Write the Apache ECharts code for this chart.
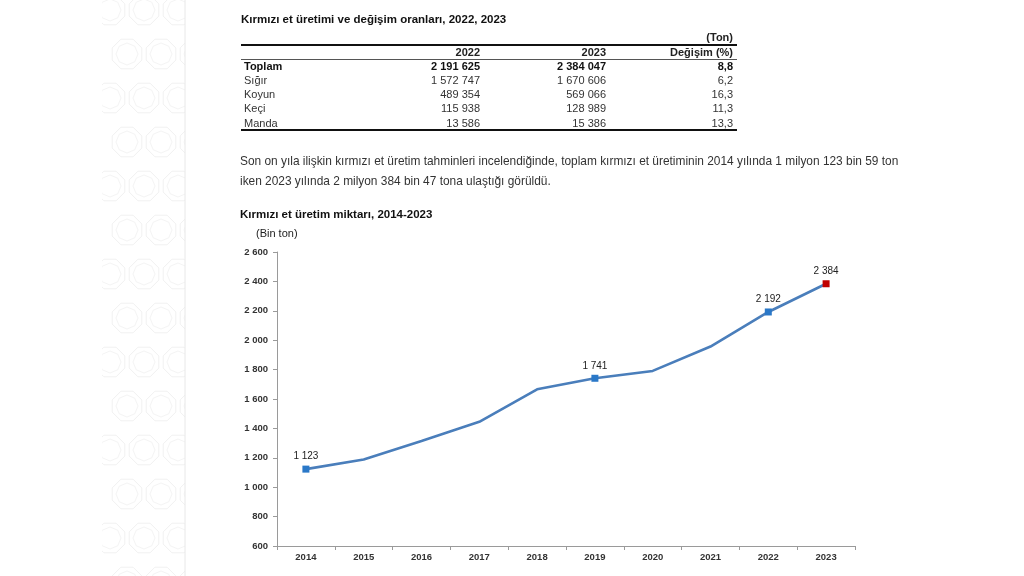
<!DOCTYPE html>
<html>
<head>
<meta charset="utf-8">
<script src="https://cdn.jsdelivr.net/npm/echarts@6/dist/echarts.min.js"></script>
<style>
html,body{margin:0;padding:0;background:#fff;}
#c{width:1024px;height:576px;}
</style>
</head>
<body>
<div id="c"></div>
<script>
// ---- Table data ----
var tableTitle = 'Kırmızı et üretimi ve değişim oranları, 2022, 2023';
var tableUnit = '(Ton)';
var tableHeaders = ['2022', '2023', 'Değişim (%)'];
var rowNames = ['Toplam', 'Sığır', 'Koyun', 'Keçi', 'Manda'];
var values2022 = ['2 191 625', '1 572 747', '489 354', '115 938', '13 586'];
var values2023 = ['2 384 047', '1 670 606', '569 066', '128 989', '15 386'];
var changes = ['8,8', '6,2', '16,3', '11,3', '13,3'];

// ---- Text ----
var paragraphLines = [
  'Son on yıla ilişkin kırmızı et üretim tahminleri incelendiğinde, toplam kırmızı et üretiminin 2014 yılında 1 milyon 123 bin 59 ton',
  'iken 2023 yılında 2 milyon 384 bin 47 tona ulaştığı görüldü.'
];
var chartTitle = 'Kırmızı et üretim miktarı, 2014-2023';
var chartUnit = '(Bin ton)';

// ---- Chart data ----
var years = ['2014', '2015', '2016', '2017', '2018', '2019', '2020', '2021', '2022', '2023'];
var production = [1123, 1189, 1315, 1445, 1666, 1741, 1791, 1957, 2192, 2384];
var markedYears = ['2014', '2019', '2022', '2023'];
var redYears = ['2023'];

function fmt(v) {
  return String(v).replace(/\B(?=(\d{3})+(?!\d))/g, ' ');
}

var FONT = '"Liberation Sans", Arial, sans-serif';
var graphics = [];

// decorative side band
(function () {
  var x0 = 102, x1 = 185;
  var children = [];
  for (var r = 0; r < 14; r++) {
    for (var c = 0; c < 3; c++) {
      var cx = x0 + 8 + c * 34 + (r % 2 ? 17 : 0);
      var cy = 10 + r * 44;
      var pts = [], pts2 = [];
      for (var k = 0; k < 8; k++) {
        var a = Math.PI / 8 + k * Math.PI / 4;
        pts.push([cx + 16 * Math.cos(a), cy + 16 * Math.sin(a)]);
        var b = k * Math.PI / 4;
        pts2.push([cx + 11 * Math.cos(b), cy + 11 * Math.sin(b)]);
      }
      children.push({ type: 'polygon', shape: { points: pts }, style: { fill: null, stroke: '#f1f1f1', lineWidth: 1 } });
      children.push({ type: 'polygon', shape: { points: pts2 }, style: { fill: null, stroke: '#f4f4f4', lineWidth: 1 } });
    }
  }
  graphics.push({ type: 'group', silent: true, clipPath: { type: 'rect', shape: { x: x0, y: 0, width: x1 - x0, height: 576 } }, children: children });
  graphics.push({ type: 'line', shape: { x1: x1, y1: 0, x2: x1, y2: 576 }, style: { stroke: '#e8e8e8', lineWidth: 1 } });
})();

function txt(x, y, s, opt) {
  opt = opt || {};
  graphics.push({
    type: 'text', x: x, y: y,
    style: {
      text: s,
      font: (opt.bold ? 'bold ' : '') + (opt.size || 11) + 'px ' + FONT,
      fill: opt.color || '#222',
      textAlign: opt.align || 'left',
      textVerticalAlign: 'middle'
    }
  });
}
function hline(x1, x2, y, w, color) {
  graphics.push({ type: 'line', shape: { x1: x1, y1: y, x2: x2, y2: y }, style: { stroke: color || '#111', lineWidth: w } });
}

// Table
txt(241, 20, tableTitle, { bold: true, size: 11.5, color: '#111' });
txt(733, 37.5, tableUnit, { bold: true, size: 11, color: '#222', align: 'right' });
hline(241, 737, 45, 2, '#111');
var colX = [480, 606, 733];
tableHeaders.forEach(function (h, i) { txt(colX[i], 52.5, h, { bold: true, size: 11, align: 'right' }); });
hline(241, 737, 59.5, 1, '#555');
rowNames.forEach(function (n, i) {
  var y = 66.5 + i * 14.3;
  var b = i === 0;
  var col = b ? '#111' : '#333';
  txt(244, y, n, { bold: b, size: 11, color: col });
  txt(colX[0], y, values2022[i], { bold: b, size: 11, color: col, align: 'right' });
  txt(colX[1], y, values2023[i], { bold: b, size: 11, color: col, align: 'right' });
  txt(colX[2], y, changes[i], { bold: b, size: 11, color: col, align: 'right' });
});
hline(241, 737, 130, 2, '#111');

// Paragraph
paragraphLines.forEach(function (l, i) { txt(240, 161.5 + i * 20, l, { size: 11.9, color: '#333' }); });

// Chart titles
txt(240, 214.5, chartTitle, { bold: true, size: 11.5, color: '#111' });
txt(256, 233.5, chartUnit, { size: 11, color: '#222' });

var seriesData = years.map(function (y, i) {
  var marked = markedYears.indexOf(y) >= 0;
  var red = redYears.indexOf(y) >= 0;
  if (!marked) return { value: production[i], symbol: 'none' };
  return {
    value: production[i],
    symbol: 'rect',
    symbolSize: 7,
    itemStyle: { color: red ? '#c00000' : '#2a78c8' },
    label: { show: true }
  };
});

var chart = echarts.init(document.getElementById('c'), null, { renderer: 'canvas' });
chart.setOption({
  backgroundColor: '#ffffff',
  animation: false,
  graphic: graphics,
  grid: { left: 277, right: 169, top: 252, bottom: 30, containLabel: false },
  xAxis: {
    type: 'category',
    data: years,
    boundaryGap: true,
    axisLine: { lineStyle: { color: '#9a9a9a', width: 1 } },
    axisTick: { show: true, length: 4, lineStyle: { color: '#9a9a9a' } },
    axisLabel: { color: '#333', fontWeight: 'bold', fontSize: 9.5, fontFamily: FONT, margin: 6 }
  },
  yAxis: {
    type: 'value',
    min: 600, max: 2600, interval: 200,
    axisLine: { show: true, lineStyle: { color: '#9a9a9a', width: 1 } },
    axisTick: { show: true, length: 4, lineStyle: { color: '#9a9a9a' } },
    splitLine: { show: false },
    axisLabel: { color: '#333', fontWeight: 'bold', fontSize: 9.5, fontFamily: FONT, margin: 9, formatter: function (v) { return fmt(v); } }
  },
  series: [{
    type: 'line',
    data: seriesData,
    symbol: 'rect',
    symbolSize: 7,
    showSymbol: true,
    lineStyle: { color: '#4a7ebb', width: 2.6 },
    itemStyle: { color: '#2a78c8' },
    label: {
      show: false, position: 'top', distance: 4,
      color: '#222', fontSize: 10, fontFamily: FONT,
      formatter: function (p) { return fmt(p.value); }
    },
    z: 3
  }]
});
</script>
</body>
</html>
